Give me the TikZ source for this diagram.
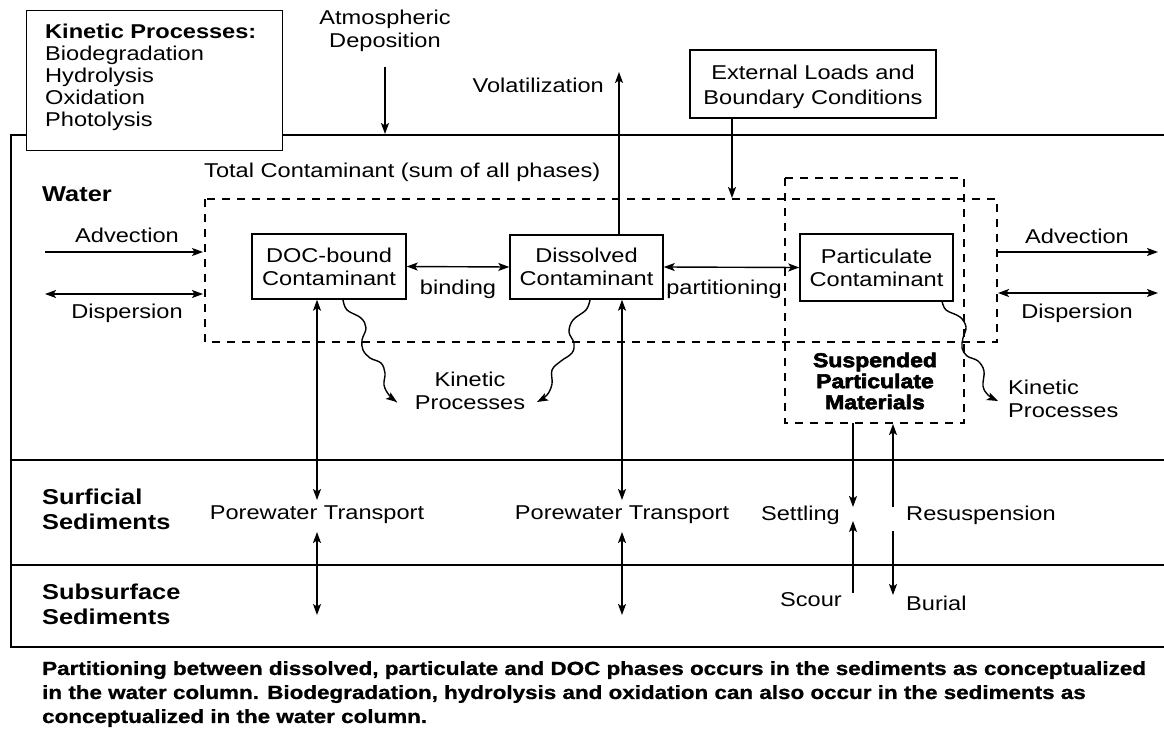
\documentclass[tikz,border=0pt]{standalone}
\usepackage{fontspec}
\setmainfont{Liberation Sans}[FakeStretch=1.18]
\newfontfamily\heavyfont{Liberation Sans}[FakeStretch=1.15,BoldFeatures={FakeBold=3}]
\newfontfamily\capfont{Liberation Sans}[FakeStretch=1.18,BoldFeatures={FakeBold=1}]
\usetikzlibrary{arrows.meta}
\tikzset{
  txt/.style={inner sep=0pt, align=center, font=\fontsize{20}{23}\selectfont},
  btxt/.style={inner sep=0pt, align=left, font=\fontsize{21.5}{25}\selectfont\bfseries},
  box/.style={draw, line width=1.4pt, fill=white, inner sep=0pt, align=center, font=\fontsize{20}{23}\selectfont},
  arr/.style={line width=1.4pt, -{Stealth[length=11pt,width=8pt,inset=2.5pt]}},
  darr/.style={line width=1.4pt, {Stealth[length=11pt,width=8pt,inset=2.5pt]}-{Stealth[length=11pt,width=8pt,inset=2.5pt]}},
  dbox/.style={line width=1.6pt, dash pattern=on 8pt off 7pt},
  frame/.style={line width=2.5pt},
  wavy/.style={line width=1.4pt, -{Stealth[length=11pt,width=8pt,inset=2.5pt]}}
}
\begin{document}
\begin{tikzpicture}[x=1pt,y=-1pt]
\useasboundingbox (0,0) rectangle (1164,733);
% frame
\draw[frame] (1164,135) -- (11,135) -- (11,647) -- (1164,647);
\draw[frame] (11,460) -- (1164,460);
\draw[frame] (11,565) -- (1164,565);
% kinetic processes box
\node[box, anchor=north west, minimum width=256pt, minimum height=140pt] (kin) at (26,10) {};
\node[txt, anchor=north west, align=left, font=\fontsize{20}{22}\selectfont] (kintext) at (45,24)
 {\textbf{Kinetic Processes:}\\Biodegradation\\Hydrolysis\\Oxidation\\Photolysis};
% atmospheric deposition
\node[txt] (atm) at (385,31) {Atmospheric\\Deposition};
\coordinate (atmS) at (385,67);
\coordinate (atmE) at (385,134);
\draw[arr] (atmS) -- (atmE);
% external loads
\node[box, minimum width=246pt, minimum height=68pt] (ext) at (813,84) {};
\node[txt, font=\fontsize{20}{25}\selectfont, anchor=north] (exttext) at (813,65) {External Loads and\\Boundary Conditions};
\coordinate (extE) at (732,198);
\draw[arr] (ext.south -| extE) -- (extE);
% total contaminant
\node[txt, anchor=west] (tot) at (204,172) {Total Contaminant (sum of all phases)};
\draw[dbox] (205,199) rectangle (997,342);
\draw[dbox] (785,178) rectangle (964,423);
% water label
\node[btxt, anchor=west] (water) at (42,194) {Water};
% phase boxes
\node[box, minimum width=154pt, minimum height=65pt] (doc) at (329,266.5) {DOC-bound\\Contaminant};
\node[box, minimum width=153pt, minimum height=64pt] (diss) at (586.5,267) {Dissolved\\Contaminant};
\node[box, minimum width=153pt, minimum height=67pt] (part) at (876.5,267.5) {Particulate\\Contaminant};
\draw[darr] (doc.east) -- (diss.west);
\draw[darr] (diss.east) -- (part.west);
\node[txt] (bind) at (458,289) {binding};
\node[txt] (partn) at (724,289) {partitioning};
% volatilization
\coordinate (volE) at (619,72);
\draw[arr] (diss.north -| volE) -- (volE);
\node[txt, anchor=east] (vol) at (604,85) {Volatilization};
% advection / dispersion left
\node[txt] (advL) at (127,235) {Advection};
\coordinate (advLs) at (45,252); \coordinate (advLe) at (203,252);
\draw[arr] (advLs) -- (advLe);
\node[txt] (disL) at (127,313) {Dispersion};
\coordinate (disLs) at (45,294); \coordinate (disLe) at (203,294);
\draw[darr] (disLs) -- (disLe);
% advection / dispersion right
\node[txt] (advR) at (1077,236) {Advection};
\coordinate (advRs) at (998,252); \coordinate (advRe) at (1158,252);
\draw[arr] (advRs) -- (advRe);
\node[txt] (disR) at (1077,313) {Dispersion};
\coordinate (disRs) at (998,293); \coordinate (disRe) at (1158,293);
\draw[darr] (disRs) -- (disRe);
% suspended particulate materials
\node[inner sep=0pt, align=center, font=\fontsize{20}{21}\selectfont\heavyfont\bfseries] (spm) at (875,381) {Suspended\\Particulate\\Materials};
% kinetic processes labels
\node[txt] (kp1) at (470,391) {Kinetic\\Processes};
\node[txt, anchor=west, align=left] (kp2) at (1008,399) {Kinetic\\Processes};
% wavy arrows
\draw[wavy] plot[smooth, tension=0.6] coordinates {(343,300) (347,310) (361,318) (366,328) (362,340) (363,350) (370,358) (381,363) (385,373) (384,385) (389,395) (397,402)};
\draw[wavy] plot[smooth, tension=0.6] coordinates {(590,300) (586,310) (573,320) (569,332) (574,343) (572,353) (561,361) (552,370) (552,384) (547,395) (537,402)};
\draw[wavy] plot[smooth, tension=0.6] coordinates {(942,301) (946,310) (960,317) (966,327) (963,338) (962,348) (967,356) (978,361) (984,371) (983,386) (988,395) (998,401)};
% porewater transport
\coordinate (pwA) at (317,500); \coordinate (pwA2) at (317,532); \coordinate (pwA3) at (317,615);
\draw[darr] (doc.south -| pwA) -- (pwA);
\draw[darr] (pwA2) -- (pwA3);
\node[txt] (pw1) at (317,515) {Porewater Transport};
\coordinate (pwB) at (622,500); \coordinate (pwB2) at (622,532); \coordinate (pwB3) at (622,615);
\draw[darr] (diss.south -| pwB) -- (pwB);
\draw[darr] (pwB2) -- (pwB3);
\node[txt] (pw2) at (622,515) {Porewater Transport};
% settling / resuspension / scour / burial
\coordinate (setS) at (853,423); \coordinate (setE) at (853,507);
\draw[arr] (setS) -- (setE);
\coordinate (resS) at (893,507); \coordinate (resE) at (893,424);
\draw[arr] (resS) -- (resE);
\coordinate (scS) at (853,593); \coordinate (scE) at (853,521);
\draw[arr, line width=1.1pt] (scS) -- (scE);
\coordinate (buS) at (893,531); \coordinate (buE) at (893,595);
\draw[arr, line width=1.1pt] (buS) -- (buE);
\node[txt, anchor=east] (settle) at (840,515) {Settling};
\node[txt, anchor=west] (resus) at (906,515) {Resuspension};
\node[txt, anchor=east] (scour) at (842,600) {Scour};
\node[txt, anchor=west] (burial) at (906,603) {Burial};
% sediment labels
\node[btxt, anchor=west] (surf) at (42,509) {Surficial\\Sediments};
\node[btxt, anchor=west] (subs) at (42,604) {Subsurface\\Sediments};
% caption
\node[inner sep=0pt, anchor=north west, align=left, font=\fontsize{19}{24}\selectfont\capfont\bfseries] (cap) at (42,661)
 {Partitioning between dissolved, particulate and DOC phases occurs in the sediments as conceptualized\\
  in the water column. Biodegradation, hydrolysis and oxidation can also occur in the sediments as\\
  conceptualized in the water column.};
\end{tikzpicture}
\end{document}
